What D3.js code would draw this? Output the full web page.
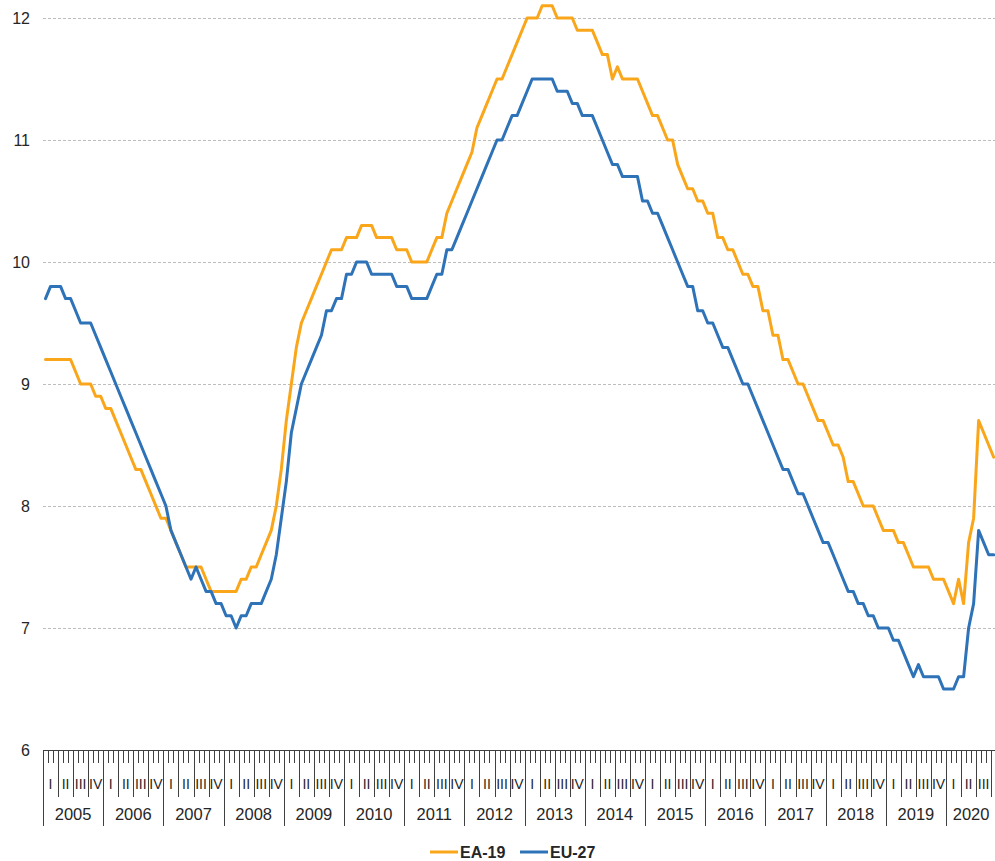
<!DOCTYPE html>
<html><head><meta charset="utf-8">
<script src="https://cdn.jsdelivr.net/npm/d3@7"></script>
<style>
html,body{margin:0;padding:0;background:#fff;}
svg{display:block;font-family:"Liberation Sans",Arial,sans-serif;}
</style></head><body>
<svg id="chart" width="995" height="861"></svg>
<script>
// ---- data ----
const years = ["2005","2006","2007","2008","2009","2010","2011","2012","2013","2014","2015","2016","2017","2018","2019","2020"];
const quarterLabels = ["I","II","III","IV"];
const yTicks = [6,7,8,9,10,11,12];
const seriesNames = ["EA-19","EU-27"];
const ea19 = [
  9.2,9.2,9.2,9.2,9.2,9.2,9.1,9.0,9.0,9.0,8.9,8.9,
  8.8,8.8,8.7,8.6,8.5,8.4,8.3,8.3,8.2,8.1,8.0,7.9,
  7.9,7.8,7.7,7.6,7.5,7.5,7.5,7.5,7.4,7.3,7.3,7.3,
  7.3,7.3,7.3,7.4,7.4,7.5,7.5,7.6,7.7,7.8,8.0,8.3,
  8.7,9.0,9.3,9.5,9.6,9.7,9.8,9.9,10.0,10.1,10.1,10.1,
  10.2,10.2,10.2,10.3,10.3,10.3,10.2,10.2,10.2,10.2,10.1,10.1,
  10.1,10.0,10.0,10.0,10.0,10.1,10.2,10.2,10.4,10.5,10.6,10.7,
  10.8,10.9,11.1,11.2,11.3,11.4,11.5,11.5,11.6,11.7,11.8,11.9,
  12.0,12.0,12.0,12.1,12.1,12.1,12.0,12.0,12.0,12.0,11.9,11.9,
  11.9,11.9,11.8,11.7,11.7,11.5,11.6,11.5,11.5,11.5,11.5,11.4,
  11.3,11.2,11.2,11.1,11.0,11.0,10.8,10.7,10.6,10.6,10.5,10.5,
  10.4,10.4,10.2,10.2,10.1,10.1,10.0,9.9,9.9,9.8,9.8,9.6,
  9.6,9.4,9.4,9.2,9.2,9.1,9.0,9.0,8.9,8.8,8.7,8.7,
  8.6,8.5,8.5,8.4,8.2,8.2,8.1,8.0,8.0,8.0,7.9,7.8,
  7.8,7.8,7.7,7.7,7.6,7.5,7.5,7.5,7.5,7.4,7.4,7.4,
  7.3,7.2,7.4,7.2,7.7,7.9,8.7,8.6,8.5,8.4
];
const eu27 = [
  9.7,9.8,9.8,9.8,9.7,9.7,9.6,9.5,9.5,9.5,9.4,9.3,
  9.2,9.1,9.0,8.9,8.8,8.7,8.6,8.5,8.4,8.3,8.2,8.1,
  8.0,7.8,7.7,7.6,7.5,7.4,7.5,7.4,7.3,7.3,7.2,7.2,
  7.1,7.1,7.0,7.1,7.1,7.2,7.2,7.2,7.3,7.4,7.6,7.9,
  8.2,8.6,8.8,9.0,9.1,9.2,9.3,9.4,9.6,9.6,9.7,9.7,
  9.9,9.9,10.0,10.0,10.0,9.9,9.9,9.9,9.9,9.9,9.8,9.8,
  9.8,9.7,9.7,9.7,9.7,9.8,9.9,9.9,10.1,10.1,10.2,10.3,
  10.4,10.5,10.6,10.7,10.8,10.9,11.0,11.0,11.1,11.2,11.2,11.3,
  11.4,11.5,11.5,11.5,11.5,11.5,11.4,11.4,11.4,11.3,11.3,11.2,
  11.2,11.2,11.1,11.0,10.9,10.8,10.8,10.7,10.7,10.7,10.7,10.5,
  10.5,10.4,10.4,10.3,10.2,10.1,10.0,9.9,9.8,9.8,9.6,9.6,
  9.5,9.5,9.4,9.3,9.3,9.2,9.1,9.0,9.0,8.9,8.8,8.7,
  8.6,8.5,8.4,8.3,8.3,8.2,8.1,8.1,8.0,7.9,7.8,7.7,
  7.7,7.6,7.5,7.4,7.3,7.3,7.2,7.2,7.1,7.1,7.0,7.0,
  7.0,6.9,6.9,6.8,6.7,6.6,6.7,6.6,6.6,6.6,6.6,6.5,
  6.5,6.5,6.6,6.6,7.0,7.2,7.8,7.7,7.6,7.6
];
const colors = ["#F9A61B", "#2E72B8"];

// ---- layout ----
const plotL = 43, plotR = 996.2, plotT = 18, plotB = 750;
const n = ea19.length;
const months = years.flatMap(yr => d3.range(12).map(m => yr + "-" + (m + 1))).slice(0, n);
const svg = d3.select("#chart");
const x = d3.scaleBand().domain(months).range([plotL, plotR]).padding(0);
const y = d3.scaleLinear().domain([6, 12]).range([plotB, plotT]);
const bw = x.bandwidth();
const bx = i => (i < n ? x(months[i]) : plotR);
const textCol = "#262626";

svg.append("rect").attr("width", 995).attr("height", 861).attr("fill", "#fff");

// gridlines
const grid = svg.append("g").attr("transform", `translate(${plotL},0)`)
  .call(d3.axisLeft(y).tickValues(yTicks.filter(v => v > 6)).tickSize(-(plotR - plotL)).tickFormat(""));
grid.select(".domain").remove();
grid.selectAll("line").attr("stroke", "#bdbdbd").attr("stroke-dasharray", "3,2").attr("stroke-width", 1);

// y labels
const yl = svg.append("g").attr("transform", `translate(30,0)`)
  .call(d3.axisLeft(y).tickValues(yTicks).tickSize(0).tickPadding(0).tickFormat(d3.format("d")));
yl.select(".domain").remove();
yl.selectAll("text").attr("font-size", 16).attr("fill", textCol).attr("font-family", "Liberation Sans, Arial, sans-serif");

// x axis line
svg.append("line").attr("x1", plotL).attr("x2", plotR).attr("y1", plotB + 0.5).attr("y2", plotB + 0.5)
  .attr("stroke", "#404040").attr("stroke-width", 1);

// ticks
const axisG = svg.append("g").attr("stroke", "#404040").attr("stroke-width", 1);
d3.range(0, n + 1).forEach(i => {
  const xx = Math.round(bx(i)) + 0.5;
  let len = 13;
  if (i % 12 === 0) len = 76;
  else if (i % 3 === 0) len = 47;
  axisG.append("line").attr("x1", xx).attr("x2", xx).attr("y1", plotB).attr("y2", plotB + len);
});

// quarter labels
const ql = svg.append("g").attr("font-size", 14).attr("fill", textCol).attr("text-anchor", "middle");
years.forEach((yr, yi) => {
  quarterLabels.forEach((q, qi) => {
    const s = yi * 12 + qi * 3;
    if (s + 3 <= n) {
      ql.append("text").attr("x", x(months[s]) + bw * 1.5).attr("y", 789).text(q);
    }
  });
});

// year labels
const yrl = svg.append("g").attr("font-size", 16.5).attr("fill", textCol).attr("text-anchor", "middle");
years.forEach((yr, yi) => {
  const s = yi * 12;
  const e = Math.min(n, s + 12);
  if (s < n) yrl.append("text").attr("x", (bx(s) + bx(e)) / 2).attr("y", 820).text(yr);
});

// lines
const line = d3.line().x((d, i) => x(months[i]) + bw / 2).y(d => y(d));
[ea19, eu27].forEach((s, k) => {
  svg.append("path").datum(s).attr("d", line).attr("fill", "none")
    .attr("stroke", colors[k]).attr("stroke-width", 3)
    .attr("stroke-linejoin", "round").attr("stroke-linecap", "round");
});

// legend
const lg = svg.append("g").attr("font-size", 16).attr("font-weight", "bold").attr("fill", textCol);
const legX = [430, 520];
seriesNames.forEach((nm, k) => {
  lg.append("line").attr("x1", legX[k]).attr("x2", legX[k] + 28).attr("y1", 852).attr("y2", 852)
    .attr("stroke", colors[k]).attr("stroke-width", 3);
  lg.append("text").attr("x", legX[k] + 30).attr("y", 858).text(nm);
});
</script>
</body></html>
